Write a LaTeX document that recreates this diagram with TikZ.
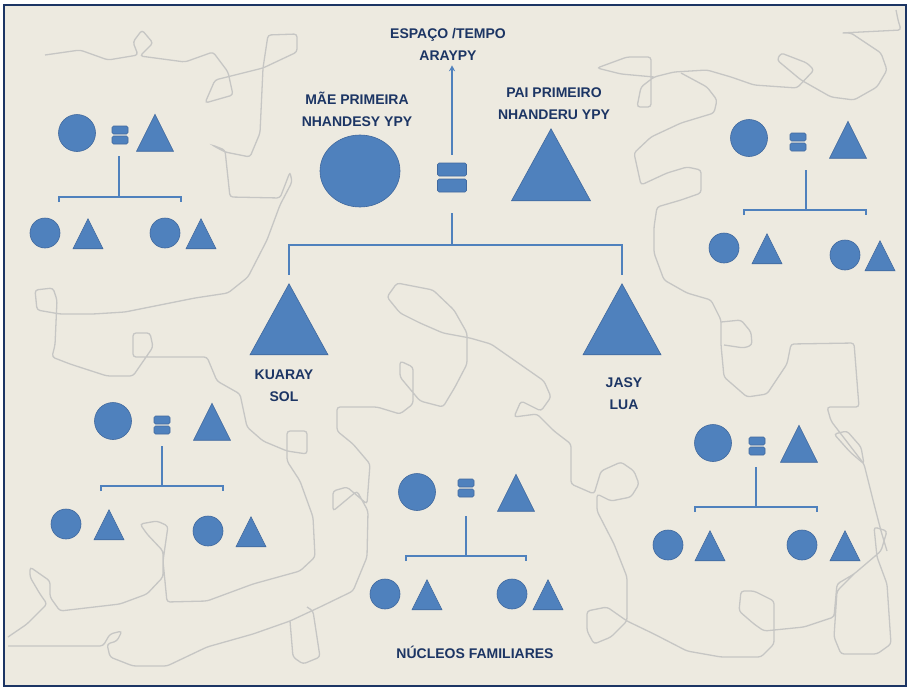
\documentclass[tikz,border=0pt]{standalone}
\usepackage{fontspec}
\setmainfont{Liberation Sans}
\usetikzlibrary{shapes.geometric,arrows.meta}

\definecolor{azul}{HTML}{4F81BD}
\definecolor{borda}{HTML}{41699E}
\definecolor{marinho}{HTML}{1C3564}
\definecolor{fundo}{HTML}{EDEAE0}
\definecolor{cinza}{HTML}{C6C6C4}

\begin{document}
\begin{tikzpicture}[x=1pt,y=-1pt,
  rotulo/.style={text=marinho,align=center,inner sep=0pt,font=\bfseries\fontsize{14}{22}\selectfont},
  bola/.style={circle,fill=azul,draw=borda,line width=0.6pt,inner sep=0pt,minimum size=#1},
  tri/.style={isosceles triangle,isosceles triangle stretches,shape border rotate=90,fill=azul,draw=borda,line width=0.6pt,inner sep=0pt,minimum width=#1,minimum height=#1,anchor=apex,yshift=#1/2},
  barra/.style={rectangle,rounded corners=1.5pt,fill=azul,draw=borda,line width=0.6pt,inner sep=0pt,minimum width=16pt,minimum height=8pt},
  linha/.style={draw=azul,line width=2.6pt},
  risco/.style={draw=cinza,line width=1.3pt,rounded corners=3pt}]
\useasboundingbox (0,0) rectangle (909,688);
\fill[white] (0,0) rectangle (909,688);
\draw[draw=marinho,line width=2.5pt,fill=fundo] (4,5) rectangle (906,686);

% riscos do fundo
\draw[risco] (45,55) -- (80,50) -- (108,60) -- (138,55) -- (133,42) -- (142,30) -- (153,43) -- (140,56) -- (185,62) -- (213,52) -- (228,72) -- (233,95) -- (205,103) -- (215,80) -- (263,68) -- (297,52) -- (297,34) -- (268,35) -- (263,68) -- (260,133) -- (250,157) -- (225,152) -- (212,145) -- (225,150) -- (230,197) -- (280,198) -- (290,172) -- (292,182) -- (280,205) -- (267,240) -- (248,277) -- (228,293) -- (195,298) -- (160,305) -- (125,312) -- (93,314) -- (60,314) -- (37,310) -- (35,290) -- (53,288) -- (57,300) -- (55,345) -- (52,357) -- (70,364) -- (107,376) -- (133,376) -- (153,347) -- (150,333) -- (133,333) -- (133,357) -- (207,357) -- (217,381) -- (240,394) -- (247,427) -- (263,441) -- (287,451) -- (307,454) -- (307,431) -- (287,431) -- (287,461) -- (300,481) -- (313,517) -- (315,557) -- (300,571) -- (253,584) -- (207,601) -- (167,602) -- (163,561) -- (168,526) -- (157,521) -- (140,524) -- (147,534) -- (163,551) -- (163,577) -- (147,594) -- (120,604) -- (60,611) -- (50,597) -- (50,581) -- (30,567) -- (30,577) -- (40,594) -- (47,604) -- (27,624) -- (8,637);
\draw[risco] (8,646) -- (103,646) -- (110,634) -- (122,631) -- (117,641) -- (107,644) -- (110,657) -- (133,666) -- (167,666) -- (207,647) -- (253,634) -- (290,621) -- (320,607) -- (353,591) -- (367,557) -- (368,511) -- (357,491) -- (333,511) -- (333,491) -- (347,487) -- (367,504) -- (370,464) -- (353,444) -- (337,431) -- (337,407) -- (377,407) -- (400,414) -- (413,404) -- (413,367) -- (400,361) -- (400,377) -- (420,401) -- (443,407) -- (455,387) -- (467,364) -- (467,333) -- (454,310) -- (433,290) -- (397,283) -- (387,297) -- (400,313) -- (420,323) -- (443,333) -- (470,338) -- (491,344) -- (544,381) -- (551,397) -- (541,411) -- (521,401) -- (514,417) -- (537,414) -- (554,431) -- (571,444) -- (571,484) -- (594,494) -- (601,471) -- (621,462) -- (634,471) -- (639,484) -- (631,497) -- (611,501) -- (597,494) -- (597,511) -- (614,544) -- (627,577) -- (627,621) -- (611,637) -- (594,644) -- (587,631) -- (587,611) -- (607,607) -- (627,621) -- (654,634) -- (687,651) -- (721,657) -- (761,657) -- (774,644) -- (774,601) -- (754,591) -- (741,591) -- (739,611) -- (754,624) -- (764,631) -- (804,627) -- (834,617) -- (837,584) -- (854,574) -- (881,551) -- (887,531) -- (874,527) -- (877,557) -- (887,584) -- (891,644) -- (877,654) -- (841,654) -- (834,637) -- (837,591) -- (854,574);
\draw[risco] (654,77) -- (621,74) -- (597,68) -- (627,57) -- (651,57) -- (651,107) -- (637,107) -- (641,87) -- (654,77) -- (674,72) -- (707,70) -- (731,77) -- (754,85) -- (797,88) -- (814,70) -- (807,63) -- (781,53) -- (777,60) -- (801,80) -- (831,97) -- (854,100) -- (877,87) -- (887,70) -- (881,53) -- (851,33) -- (841,33) -- (901,30) -- (898,20) -- (896,10);
\draw[risco] (681,73) -- (707,87) -- (717,100) -- (714,113) -- (681,123) -- (651,137) -- (634,153) -- (641,185) -- (667,173) -- (687,167) -- (701,170) -- (701,193) -- (681,200) -- (657,207) -- (654,227) -- (654,253) -- (664,280) -- (687,293) -- (711,300) -- (721,320) -- (721,345) -- (724,377) -- (747,397) -- (767,394) -- (787,364) -- (791,344) -- (854,343) -- (859,407) -- (827,407) -- (831,421) -- (864,464) -- (874,504) -- (881,531) -- (887,551);
\draw[risco] (721,322) -- (741,320) -- (751,332) -- (752,345) -- (744,348) -- (724,345);
\draw[risco] (834,434) -- (847,431) -- (861,447) -- (864,464) -- (850,452) -- cycle;
\draw[risco] (290,621) -- (293,657) -- (303,664) -- (320,657) -- (313,611) -- (307,607);

% casal primeiro
\node[ellipse,fill=azul,draw=borda,line width=0.6pt,inner sep=0pt,minimum width=80pt,minimum height=72pt] (mae) at (360,171) {};
\node[barra,minimum width=29pt,minimum height=13pt] (eqa) at (452,169.5) {};
\node[barra,minimum width=29pt,minimum height=13pt] (eqb) at (452,185.5) {};
\node[tri=72pt,minimum width=79pt] (pai) at (551,164) {};
\node[tri=71pt,minimum width=78pt] (kuaray) at (289,318.5) {};
\node[tri=71pt,minimum width=78pt] (jasy) at (622,318.5) {};
\node[rotulo] (espaco) at (448,44) {ESPAÇO /TEMPO\\ARAYPY};
\node[rotulo] (maetx) at (357,109) {MÃE PRIMEIRA\\NHANDESY YPY};
\node[rotulo] (paitx) at (554,104) {PAI PRIMEIRO\\NHANDERU YPY};
\node[rotulo] (soltx) at (284,386) {KUARAY\\SOL};
\node[rotulo] (luatx) at (624,394) {JASY\\LUA};
\node[rotulo] (nucleos) at (475,652) {NÚCLEOS FAMILIARES};
\coordinate (ramo) at (452,245);
\draw[linha,-{Stealth[length=6pt,width=6pt]},shorten <=8pt,shorten >=5pt] (eqa.north) -- (eqa.north |- espaco.south);
\draw[linha,shorten <=21pt] (eqb.south) -- (ramo);
\draw[linha,shorten >=8pt] (ramo) -| (kuaray.apex);
\draw[linha,shorten >=8pt] (ramo) -| (jasy.apex);

% nucleo 1
\node[bola=37pt] (f1m) at (77,133) {};
\node[barra] (f1a) at (120,130) {};
\node[barra] (f1b) at (120,140) {};
\node[tri=37pt] (f1p) at (155,132) {};
\coordinate (f1s) at (119,156);
\coordinate (f1r) at (119,197);
\draw[linha] (f1s) -- (f1r);
\draw[linha] (59,202) -- (59,197) -- (181,197) -- (181,202);
\node[bola=30pt] (f1c1) at (45,233) {};
\node[tri=30pt] (f1c2) at (88,233) {};
\node[bola=30pt] (f1c3) at (165,233) {};
\node[tri=30pt] (f1c4) at (201,233) {};

% nucleo 2
\node[bola=37pt] (f2m) at (749,138) {};
\node[barra] (f2a) at (798,137) {};
\node[barra] (f2b) at (798,147) {};
\node[tri=37pt] (f2p) at (848,139) {};
\coordinate (f2s) at (806,170);
\coordinate (f2r) at (806,210);
\draw[linha] (f2s) -- (f2r);
\draw[linha] (744,215) -- (744,210) -- (866,210) -- (866,215);
\node[bola=30pt] (f2c1) at (724,248) {};
\node[tri=30pt] (f2c2) at (767,248) {};
\node[bola=30pt] (f2c3) at (845,255) {};
\node[tri=30pt] (f2c4) at (880,255) {};

% nucleo 3
\node[bola=37pt] (f3m) at (113,421) {};
\node[barra] (f3a) at (162,420) {};
\node[barra] (f3b) at (162,430) {};
\node[tri=37pt] (f3p) at (212,421) {};
\coordinate (f3s) at (162,446);
\coordinate (f3r) at (162,486);
\draw[linha] (f3s) -- (f3r);
\draw[linha] (101,491) -- (101,486) -- (223,486) -- (223,491);
\node[bola=30pt] (f3c1) at (66,524) {};
\node[tri=30pt] (f3c2) at (109,524) {};
\node[bola=30pt] (f3c3) at (208,531) {};
\node[tri=30pt] (f3c4) at (251,531) {};

% nucleo 4
\node[bola=37pt] (f4m) at (417,492) {};
\node[barra] (f4a) at (466,483) {};
\node[barra] (f4b) at (466,493) {};
\node[tri=37pt] (f4p) at (516,492) {};
\coordinate (f4s) at (466,516);
\coordinate (f4r) at (466,556);
\draw[linha] (f4s) -- (f4r);
\draw[linha] (406,561) -- (406,556) -- (526,556) -- (526,561);
\node[bola=30pt] (f4c1) at (385,594) {};
\node[tri=30pt] (f4c2) at (427,594) {};
\node[bola=30pt] (f4c3) at (512,594) {};
\node[tri=30pt] (f4c4) at (548,594) {};

% nucleo 5
\node[bola=37pt] (f5m) at (713,443) {};
\node[barra] (f5a) at (757,441) {};
\node[barra] (f5b) at (757,451) {};
\node[tri=37pt] (f5p) at (799,443) {};
\coordinate (f5s) at (756,467);
\coordinate (f5r) at (756,507);
\draw[linha] (f5s) -- (f5r);
\draw[linha] (695,512) -- (695,507) -- (817,507) -- (817,512);
\node[bola=30pt] (f5c1) at (668,545) {};
\node[tri=30pt] (f5c2) at (710,545) {};
\node[bola=30pt] (f5c3) at (802,545) {};
\node[tri=30pt] (f5c4) at (845,545) {};
\end{tikzpicture}
\end{document}
